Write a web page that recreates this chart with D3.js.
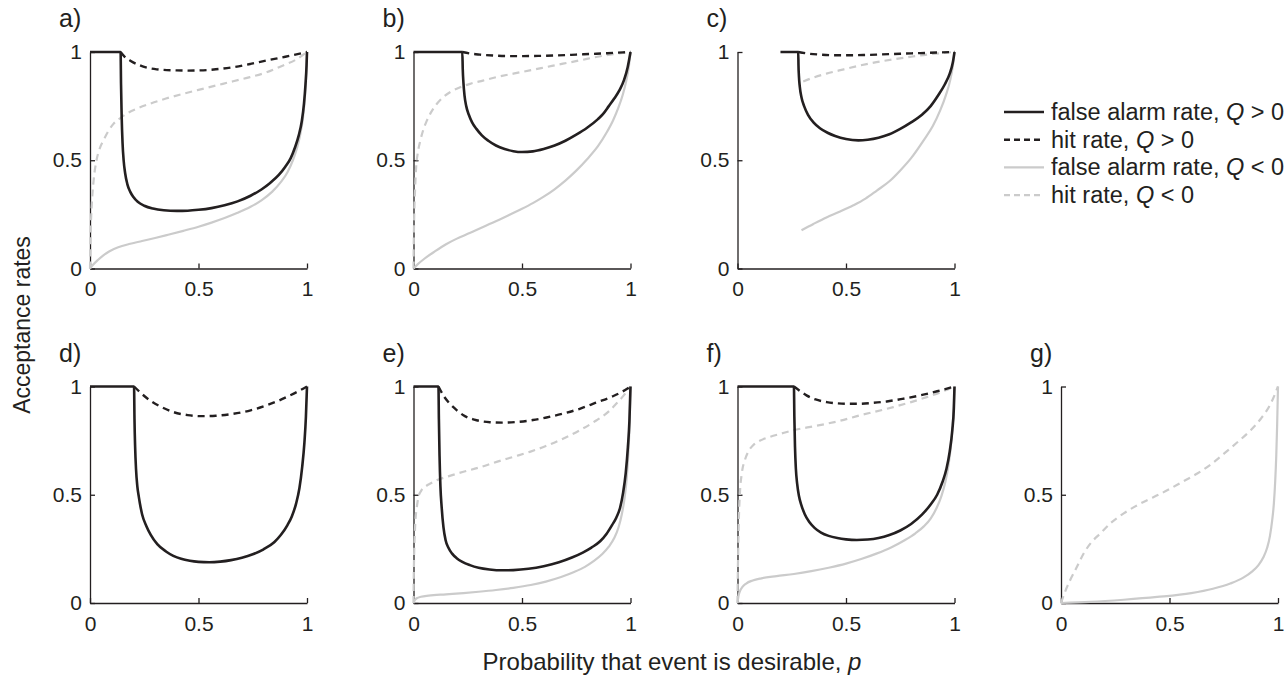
<!DOCTYPE html>
<html>
<head>
<meta charset="utf-8">
<title>Acceptance rates</title>
<script src="https://cdn.jsdelivr.net/npm/d3@7"></script>
<style>
    body { margin: 0; background: #fff; }
    svg text { font-family: "Liberation Sans", Arial, Helvetica, sans-serif; fill: #231f20; }
</style>
</head>
<body>
<svg id="chart" width="1287" height="676"></svg>
<script>

// tick values / labels shared by every panel
const pTicks = [0, 0.5, 1]
const rateTicks = [0, 0.5, 1]
const tickLabels = ["0", "0.5", "1"]
const panelLabels = ["a)", "b)", "c)", "d)", "e)", "f)", "g)"]

// each series is a list of [p, rate]
// faPos = false alarm rate Q>0, hitPos = hit rate Q>0, faNeg / hitNeg = same for Q<0
const a_faPos = [[0,1],[0.141,1],[0.143,0.85],[0.146,0.7],[0.15,0.58],[0.155,0.5],[0.162,0.44],[0.172,0.39],[0.185,0.355],[0.2,0.33],[0.22,0.308],[0.25,0.29],[0.29,0.277],[0.34,0.269],[0.4,0.266],[0.45,0.267],[0.5,0.271],[0.56,0.279],[0.62,0.292],[0.68,0.31],[0.74,0.336],[0.79,0.365],[0.83,0.395],[0.87,0.432],[0.9,0.47],[0.925,0.51],[0.945,0.56],[0.962,0.615],[0.976,0.68],[0.986,0.76],[0.993,0.85],[0.998,0.94],[1,1]]
const a_hitPos = [[0.141,1],[0.16,0.978],[0.184,0.961],[0.23,0.938],[0.307,0.92],[0.4,0.915],[0.45,0.914],[0.507,0.915],[0.58,0.92],[0.66,0.93],[0.74,0.945],[0.814,0.961],[0.9,0.978],[1,1]]
const a_hitNeg = [[0,0],[0.002,0.12],[0.004,0.2],[0.009,0.31],[0.016,0.4],[0.03,0.5],[0.045,0.555],[0.061,0.59],[0.085,0.635],[0.108,0.668],[0.14,0.695],[0.169,0.715],[0.22,0.74],[0.276,0.761],[0.35,0.785],[0.43,0.807],[0.5,0.825],[0.584,0.846],[0.66,0.865],[0.737,0.884],[0.81,0.905],[0.89,0.938],[0.95,0.965],[1,1]]
const a_faNeg = [[0,0],[0.015,0.018],[0.035,0.038],[0.06,0.06],[0.09,0.08],[0.13,0.098],[0.18,0.113],[0.24,0.127],[0.3,0.141],[0.36,0.156],[0.43,0.174],[0.5,0.193],[0.56,0.212],[0.62,0.233],[0.68,0.257],[0.74,0.285],[0.79,0.315],[0.84,0.355],[0.88,0.4],[0.91,0.445],[0.935,0.5],[0.955,0.56],[0.97,0.625],[0.982,0.7],[0.991,0.8],[0.997,0.9],[1,1]]

const b_faPos = [[0,1],[0.225,1],[0.227,0.92],[0.23,0.86],[0.235,0.8],[0.243,0.75],[0.255,0.71],[0.27,0.675],[0.29,0.645],[0.315,0.615],[0.345,0.59],[0.38,0.568],[0.42,0.552],[0.46,0.542],[0.5,0.538],[0.55,0.541],[0.6,0.552],[0.65,0.568],[0.7,0.59],[0.75,0.618],[0.8,0.65],[0.85,0.69],[0.873,0.713],[0.9,0.75],[0.925,0.785],[0.95,0.825],[0.97,0.87],[0.987,0.93],[1,1]]
const b_hitPos = [[0.225,1],[0.26,0.993],[0.306,0.988],[0.383,0.983],[0.45,0.981],[0.505,0.981],[0.58,0.982],[0.658,0.984],[0.75,0.988],[0.842,0.992],[0.92,0.996],[1,1]]
const b_hitNeg = [[0,0],[0.001,0.1],[0.003,0.233],[0.007,0.36],[0.012,0.465],[0.02,0.535],[0.031,0.589],[0.045,0.64],[0.061,0.682],[0.08,0.72],[0.107,0.76],[0.135,0.79],[0.168,0.814],[0.21,0.835],[0.26,0.853],[0.32,0.868],[0.383,0.884],[0.46,0.9],[0.536,0.915],[0.61,0.93],[0.689,0.946],[0.77,0.962],[0.842,0.977],[0.92,0.99],[1,1]]
const b_faNeg = [[0,0],[0.02,0.02],[0.05,0.045],[0.1,0.08],[0.15,0.112],[0.2,0.138],[0.25,0.16],[0.3,0.182],[0.35,0.205],[0.4,0.228],[0.45,0.252],[0.5,0.276],[0.55,0.302],[0.6,0.332],[0.65,0.366],[0.7,0.406],[0.75,0.452],[0.8,0.505],[0.85,0.565],[0.89,0.628],[0.92,0.685],[0.945,0.745],[0.965,0.805],[0.98,0.865],[0.992,0.93],[1,1]]

const c_faPos = [[0.198,1],[0.28,1],[0.281,0.94],[0.283,0.89],[0.287,0.84],[0.295,0.79],[0.307,0.75],[0.325,0.71],[0.35,0.675],[0.38,0.648],[0.415,0.627],[0.45,0.612],[0.5,0.598],[0.557,0.592],[0.6,0.595],[0.65,0.604],[0.7,0.62],[0.75,0.645],[0.8,0.675],[0.85,0.71],[0.89,0.75],[0.925,0.8],[0.955,0.85],[0.978,0.9],[0.992,0.95],[1,1]]
const c_hitPos = [[0.28,1],[0.33,0.992],[0.38,0.988],[0.45,0.985],[0.503,0.985],[0.58,0.986],[0.642,0.988],[0.75,0.992],[0.842,0.995],[1,1]]
const c_hitNeg = [[0.303,0.864],[0.35,0.882],[0.41,0.9],[0.49,0.92],[0.565,0.938],[0.64,0.953],[0.718,0.966],[0.8,0.978],[0.872,0.988],[0.94,0.995],[1,1]]
const c_faNeg = [[0.295,0.177],[0.35,0.206],[0.41,0.236],[0.47,0.262],[0.534,0.292],[0.59,0.323],[0.642,0.36],[0.7,0.403],[0.749,0.452],[0.8,0.51],[0.857,0.591],[0.9,0.658],[0.934,0.73],[0.96,0.8],[0.98,0.869],[0.993,0.94],[1,1]]

const d_faPos = [[0,1],[0.203,1],[0.205,0.85],[0.208,0.72],[0.212,0.62],[0.218,0.54],[0.225,0.49],[0.23,0.46],[0.24,0.41],[0.26,0.355],[0.28,0.315],[0.31,0.272],[0.35,0.238],[0.384,0.218],[0.42,0.204],[0.46,0.195],[0.5,0.19],[0.55,0.188],[0.6,0.191],[0.65,0.198],[0.7,0.209],[0.75,0.225],[0.8,0.248],[0.85,0.282],[0.88,0.315],[0.91,0.36],[0.93,0.4],[0.95,0.46],[0.965,0.53],[0.978,0.63],[0.988,0.74],[0.995,0.86],[1,1]]
const d_hitPos = [[0.203,1],[0.24,0.965],[0.276,0.936],[0.33,0.905],[0.384,0.882],[0.45,0.868],[0.507,0.863],[0.58,0.865],[0.66,0.874],[0.74,0.89],[0.814,0.913],[0.87,0.935],[0.922,0.959],[0.96,0.978],[1,1]]

const e_faPos = [[0,1],[0.115,1],[0.117,0.85],[0.12,0.68],[0.124,0.54],[0.13,0.44],[0.138,0.35],[0.148,0.29],[0.161,0.255],[0.178,0.228],[0.199,0.207],[0.225,0.19],[0.26,0.175],[0.3,0.163],[0.35,0.155],[0.41,0.151],[0.46,0.152],[0.53,0.158],[0.6,0.17],[0.67,0.188],[0.73,0.21],[0.78,0.233],[0.82,0.256],[0.86,0.285],[0.89,0.32],[0.915,0.36],[0.935,0.395],[0.952,0.44],[0.966,0.51],[0.978,0.6],[0.988,0.72],[0.995,0.84],[1,1]]
const e_hitPos = [[0.115,1],[0.14,0.955],[0.168,0.92],[0.2,0.89],[0.23,0.867],[0.28,0.847],[0.352,0.835],[0.41,0.833],[0.475,0.836],[0.55,0.845],[0.613,0.857],[0.69,0.875],[0.766,0.897],[0.84,0.925],[0.919,0.955],[0.96,0.975],[1,1]]
const e_hitNeg = [[0,0],[0.001,0.1],[0.003,0.23],[0.006,0.32],[0.009,0.383],[0.015,0.44],[0.023,0.491],[0.035,0.518],[0.054,0.537],[0.08,0.553],[0.107,0.567],[0.16,0.585],[0.23,0.606],[0.3,0.625],[0.383,0.652],[0.46,0.675],[0.536,0.698],[0.61,0.725],[0.689,0.759],[0.77,0.8],[0.842,0.843],[0.9,0.885],[0.934,0.92],[0.97,0.96],[1,1]]
const e_faNeg = [[0,0],[0.005,0.012],[0.015,0.022],[0.035,0.029],[0.07,0.034],[0.15,0.04],[0.23,0.046],[0.3,0.052],[0.38,0.06],[0.46,0.07],[0.54,0.083],[0.61,0.099],[0.68,0.12],[0.74,0.143],[0.79,0.167],[0.83,0.193],[0.87,0.226],[0.9,0.26],[0.925,0.3],[0.945,0.35],[0.96,0.41],[0.972,0.48],[0.982,0.57],[0.99,0.69],[0.996,0.83],[1,1]]

const f_faPos = [[0,1],[0.26,1],[0.262,0.86],[0.265,0.72],[0.269,0.62],[0.275,0.55],[0.283,0.495],[0.295,0.45],[0.31,0.41],[0.33,0.375],[0.355,0.347],[0.385,0.325],[0.42,0.31],[0.46,0.3],[0.5,0.294],[0.55,0.291],[0.6,0.293],[0.65,0.3],[0.7,0.314],[0.75,0.335],[0.8,0.365],[0.85,0.408],[0.89,0.455],[0.92,0.5],[0.945,0.56],[0.963,0.62],[0.978,0.7],[0.99,0.8],[0.997,0.9],[1,1]]
const f_hitPos = [[0.26,1],[0.29,0.978],[0.318,0.959],[0.36,0.94],[0.411,0.928],[0.48,0.921],[0.549,0.92],[0.62,0.924],[0.688,0.931],[0.76,0.943],[0.842,0.959],[0.92,0.978],[1,1]]
const f_hitNeg = [[0,0],[0.001,0.1],[0.003,0.23],[0.006,0.38],[0.011,0.506],[0.02,0.6],[0.034,0.66],[0.05,0.7],[0.072,0.729],[0.1,0.748],[0.149,0.767],[0.2,0.782],[0.257,0.798],[0.33,0.812],[0.411,0.828],[0.49,0.846],[0.565,0.867],[0.64,0.885],[0.718,0.905],[0.8,0.928],[0.872,0.951],[0.94,0.975],[1,1]]
const f_faNeg = [[0,0],[0.004,0.03],[0.011,0.054],[0.022,0.073],[0.04,0.09],[0.07,0.104],[0.11,0.114],[0.18,0.124],[0.26,0.134],[0.34,0.147],[0.42,0.163],[0.5,0.182],[0.57,0.203],[0.64,0.228],[0.71,0.258],[0.77,0.29],[0.82,0.322],[0.86,0.355],[0.89,0.39],[0.918,0.44],[0.94,0.495],[0.958,0.56],[0.972,0.635],[0.983,0.72],[0.991,0.81],[0.997,0.91],[1,1]]

const g_hitNeg = [[0,0],[0.02,0.055],[0.043,0.107],[0.07,0.16],[0.105,0.23],[0.14,0.28],[0.182,0.322],[0.23,0.37],[0.289,0.414],[0.34,0.445],[0.397,0.475],[0.45,0.5],[0.505,0.529],[0.56,0.56],[0.628,0.598],[0.69,0.64],[0.751,0.69],[0.81,0.74],[0.874,0.798],[0.92,0.85],[0.966,0.92],[1,1]]
const g_faNeg = [[0,0],[0.135,0.005],[0.289,0.015],[0.443,0.028],[0.6,0.046],[0.7,0.066],[0.78,0.09],[0.84,0.117],[0.88,0.145],[0.91,0.175],[0.932,0.21],[0.95,0.255],[0.963,0.31],[0.973,0.38],[0.981,0.46],[0.987,0.56],[0.992,0.68],[0.996,0.82],[1,1]]

const legendKeys = ["faPos", "hitPos", "faNeg", "hitNeg"]
const legendLabels = ["false alarm rate, ", "hit rate, ", "false alarm rate, ", "hit rate, "]
const legendSigns = [" > 0", " > 0", " < 0", " < 0"]

// line styles
const dark = "#231f20"
const light = "#cbcbcb"
const styles = {
    faPos: {color: dark, width: 2.6, dash: null},
    hitPos: {color: dark, width: 2.4, dash: "7,5"},
    faNeg: {color: light, width: 2.2, dash: null},
    hitNeg: {color: light, width: 2.2, dash: "7,5"}
}
const drawOrder = ["faNeg", "hitNeg", "hitPos", "faPos"]

// panel table: column, row, series
const panels = [
    {col: 0, row: 0, faPos: a_faPos, hitPos: a_hitPos, faNeg: a_faNeg, hitNeg: a_hitNeg},
    {col: 1, row: 0, faPos: b_faPos, hitPos: b_hitPos, faNeg: b_faNeg, hitNeg: b_hitNeg},
    {col: 2, row: 0, faPos: c_faPos, hitPos: c_hitPos, faNeg: c_faNeg, hitNeg: c_hitNeg},
    {col: 0, row: 1, faPos: d_faPos, hitPos: d_hitPos},
    {col: 1, row: 1, faPos: e_faPos, hitPos: e_hitPos, faNeg: e_faNeg, hitNeg: e_hitNeg},
    {col: 2, row: 1, faPos: f_faPos, hitPos: f_hitPos, faNeg: f_faNeg, hitNeg: f_hitNeg},
    {col: 3, row: 1, faNeg: g_faNeg, hitNeg: g_hitNeg}
]

let svg = d3.select("#chart")
let plot = {width: 217, height: 216.5}
let colLeft = [90, 413.5, 737.5, 1061]
let rowTop = [52, 386.5]

let x = d3.scaleLinear().domain([0, 1]).range([0, plot.width])
let y = d3.scaleLinear().domain([0, 1]).range([plot.height, 0])
let line = d3.line()
    .x(d => x(d[0]))
    .y(d => y(d[1]))
    .curve(d3.curveMonotoneX)

panels.forEach((pn, i) => {
    let g = svg.append("g")
        .attr("transform", `translate(${colLeft[pn.col]},${rowTop[pn.row]})`)

    // y axis (ticks point inward)
    let ya = g.append("g")
        .call(d3.axisLeft(y).tickValues(rateTicks).tickSize(-5).tickSizeOuter(0).tickPadding(8)
            .tickFormat((d, j) => tickLabels[j]))
    // x axis
    let xa = g.append("g")
        .attr("transform", `translate(0,${plot.height})`)
        .call(d3.axisBottom(x).tickValues(pTicks).tickSize(-5).tickSizeOuter(0).tickPadding(13)
            .tickFormat((d, j) => tickLabels[j]))

    ;[ya, xa].forEach(ax => {
        ax.attr("font-size", 21).attr("font-family", null)
        ax.select(".domain").attr("stroke", dark).attr("stroke-width", 1.3)
        ax.selectAll(".tick line").attr("stroke", dark).attr("stroke-width", 1.3)
        ax.selectAll(".tick text").attr("fill", dark)
    })

    // curves
    drawOrder.forEach(key => {
        if (!pn[key]) return
        let st = styles[key]
        g.append("path")
            .datum(pn[key])
            .attr("d", line)
            .attr("fill", "none")
            .attr("stroke", st.color)
            .attr("stroke-width", st.width)
            .attr("stroke-dasharray", st.dash)
            .attr("stroke-linejoin", "round")
    })

    // panel letter
    g.append("text")
        .attr("x", -31)
        .attr("y", -25)
        .attr("font-size", 25)
        .text(panelLabels[i])
})

// legend
let legend = svg.append("g").attr("transform", "translate(1004,112)")
legendKeys.forEach((key, i) => {
    let st = styles[key]
    let row = legend.append("g").attr("transform", `translate(0,${i * 27.7})`)
    row.append("line")
        .attr("x1", 0).attr("x2", 40)
        .attr("stroke", st.color)
        .attr("stroke-width", st.width)
        .attr("stroke-dasharray", key.startsWith("hit") ? "6,4" : null)
    let t = row.append("text").attr("x", 47).attr("y", 8).attr("font-size", 23.5)
    t.append("tspan").text(legendLabels[i])
    t.append("tspan").attr("font-style", "italic").text("Q")
    t.append("tspan").text(legendSigns[i])
})

// axis titles
svg.append("text")
    .attr("transform", "translate(30,325) rotate(-90)")
    .attr("text-anchor", "middle")
    .attr("font-size", 23)
    .text("Acceptance rates")

let xt = svg.append("text")
    .attr("x", 672)
    .attr("y", 670)
    .attr("text-anchor", "middle")
    .attr("font-size", 24)
xt.append("tspan").text("Probability that event is desirable, ")
xt.append("tspan").attr("font-style", "italic").text("p")

</script>
</body>
</html>
